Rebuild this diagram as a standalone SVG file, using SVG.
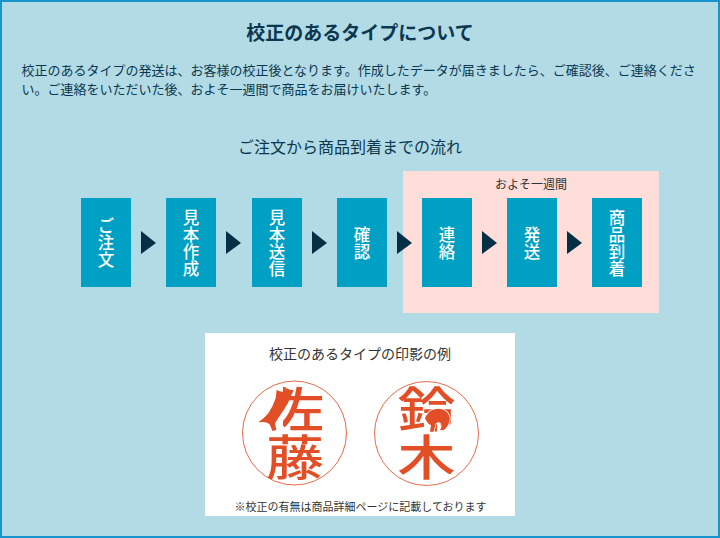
<svg xmlns="http://www.w3.org/2000/svg" width="720" height="538" viewBox="0 0 720 538">
<style>
text{font-family:"Noto Sans CJK JP","Noto Sans",sans-serif}
.d{fill:#0b3850}
.k{fill:#333}
.n{fill:#00a0c4}
.l{fill:#fff;font-size:16.5px;font-weight:500;text-anchor:middle;writing-mode:vertical-rl;letter-spacing:.5px}
.a{fill:#052f45}
.c{fill:none;stroke:#e8694a;stroke-width:1}
.s{fill:#e24e26;font-size:58px;text-anchor:middle;writing-mode:vertical-rl;font-weight:500}
.o{fill:#e24e26}
</style>
<defs>
<clipPath id="noRadical"><path d="M283 380H331V490H250V433H283Z"/></clipPath>
</defs>
<rect x="1" y="1" width="718" height="536" fill="#b2dbe5" stroke="#1595cb" stroke-width="2"/>
<text x="360" y="39.500" text-anchor="middle" font-size="19" font-weight="700" class="d">校正のあるタイプについて</text>
<text x="21.500" y="75" font-size="13" class="d">校正のあるタイプの発送は、お客様の校正後となります。作成したデータが届きましたら、ご確認後、ご連絡くださ</text>
<text x="21.500" y="94" font-size="13" class="d">い。ご連絡をいただいた後、およそ一週間で商品をお届けいたします。</text>
<text x="350" y="153" text-anchor="middle" font-size="16" class="d">ご注文から商品到着までの流れ</text>
<g id="period"><rect x="403" y="171" width="256" height="142" fill="#ffdeda"/><text x="531" y="189" text-anchor="middle" font-size="12" class="k">およそ一週間</text></g>
<g id="connectors">
<polygon class="a" points="141,231 156,243 141,254"/>
<polygon class="a" points="226,231 241,243 226,254"/>
<polygon class="a" points="312,231 327,243 312,254"/>
<polygon class="a" points="397,231 412,243 397,254"/>
<polygon class="a" points="482,231 497,243 482,254"/>
<polygon class="a" points="567,231 582,243 567,254"/>
</g>
<g id="n1"><rect class="n" x="81" y="198" width="50" height="89"/><text class="l" x="106" y="243">ご注文</text></g>
<g id="n2"><rect class="n" x="166" y="198" width="50" height="89"/><text class="l" x="191" y="243">見本作成</text></g>
<g id="n3"><rect class="n" x="252" y="198" width="50" height="89"/><text class="l" x="277" y="243">見本送信</text></g>
<g id="n4"><rect class="n" x="337" y="198" width="50" height="89"/><text class="l" x="362" y="243">確認</text></g>
<g id="n5"><rect class="n" x="422" y="198" width="50" height="89"/><text class="l" x="447" y="243">連絡</text></g>
<g id="n6"><rect class="n" x="507" y="198" width="50" height="89"/><text class="l" x="532" y="243">発送</text></g>
<g id="n7"><rect class="n" x="592" y="198" width="50" height="89"/><text class="l" x="617" y="243">商品到着</text></g>
<g id="examples">
<rect x="205" y="333" width="310" height="183" fill="#fff"/>
<text x="360" y="359" text-anchor="middle" font-size="14" class="k">校正のあるタイプの印影の例</text>
<text x="360.500" y="511" text-anchor="middle" font-size="11" class="k">※校正の有無は商品詳細ページに記載しております</text>
</g>
<g id="stamp1">
<circle class="c" cx="294.500" cy="433" r="52"/>
<g clip-path="url(#noRadical)"><text class="s" transform="translate(295,433) scale(1,.82)">佐藤</text></g>
<path class="o" transform="translate(235,375) scale(.3333)" d="M125 45Q136 52 146 50L156 40L164 44L176 46L168 62Q160 85 148 102Q132 125 120 145Q122 155 124 165L112 168Q108 155 103 147Q92 138 70 142Q88 130 100 115Q115 92 122 70Z"/>
</g>
<g id="stamp2">
<circle class="c" cx="426.500" cy="433.500" r="52"/>
<text class="s" transform="translate(426.500,433) scale(1,.82)">鈴木</text>
<path class="o" stroke="#fff" stroke-width="5" paint-order="stroke" transform="translate(365,375) scale(.3333)" d="M180 130Q188 112 200 106Q222 96 242 108Q256 120 254 135Q250 155 236 166L225 165Q232 155 228 146Q222 138 212 146L206 170H195L198 150Q190 148 186 140Z"/>
</g>
</svg>
